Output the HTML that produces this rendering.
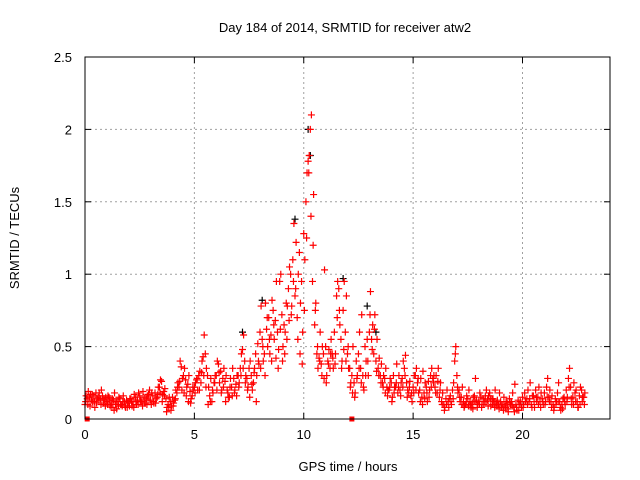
<!DOCTYPE html>
<html><head><meta charset="utf-8"><style>
html,body{margin:0;padding:0;background:#fff;}
svg{display:block;font-family:"Liberation Sans",sans-serif;}
</style></head><body>
<svg id="chart" width="640" height="480">
<text x="345" y="32" font-size="13" text-anchor="middle">Day 184 of 2014, SRMTID for receiver atw2</text>
<text x="348" y="471" font-size="13" text-anchor="middle">GPS time / hours</text>
<text transform="translate(19,238) rotate(-90)" font-size="13" text-anchor="middle">SRMTID / TECUs</text>
<g id="grid"></g><g id="axes"></g><g id="marks"></g>
<rect x="85" y="57" width="525" height="362" fill="none" stroke="#000" stroke-width="1"/>
</svg>
<script>
const xTicks=[0,5,10,15,20];
const yTicks=[0,0.5,1,1.5,2,2.5];
const yTickLabels=["0","0.5","1","1.5","2","2.5"];
const tStart=0, tStep=0.1;
const seriesA=[.10,.14,.15,.13,.16,.18,.15,.14,.16,.13,.12,.15,.11,.13,.10,.12,.14,.09,.12,.13,.11,.14,.12,.15,.13,.16,.12,.15,.14,.17,.13,.16,.18,.15,.22,.26,.19,.14,.10,.12,.15,.13,.18,.22,.36,.30,.27,.24,.19,.16,.22,.27,.30,.25,.43,.45,.30,.16,.12,.25,.30,.38,.33,.28,.26,.20,.15,.22,.28,.24,.30,.35,.48,.40,.28,.35,.30,.25,.45,.52,.60,.55,.45,.62,.70,.58,.75,.68,.60,.95,.72,.65,.80,.90,1.0,1.10,.85,.70,1.15,.95,1.28,1.50,1.78,2.0,.95,.65,.45,.42,.38,.45,.50,.40,.35,.45,.60,.85,.90,.55,.75,.60,.45,.35,.30,.25,.40,.45,.35,.30,.50,.55,.60,.55,.45,.40,.35,.30,.25,.28,.22,.20,.25,.30,.22,.18,.20,.28,.35,.25,.18,.16,.22,.30,.25,.20,.15,.18,.22,.26,.30,.28,.22,.18,.15,.12,.10,.14,.12,.16,.20,.40,.30,.20,.15,.12,.10,.14,.12,.11,.16,.13,.12,.15,.14,.16,.13,.18,.14,.12,.11,.10,.12,.10,.09,.11,.14,.12,.08,.10,.13,.12,.15,.18,.14,.12,.10,.16,.20,.15,.12,.14,.18,.22,.15,.12,.10,.14,.18,.12,.10,.15,.20,.28,.22,.15,.18,.12,.16,.20,.15];
const seriesB=[.16,.19,.17,.12,.08,.14,.18,.20,.11,.15,.16,.09,.14,.18,.07,.15,.10,.16,.08,.11,.14,.09,.17,.10,.18,.12,.19,.11,.16,.20,.18,.11,.14,.22,.27,.17,.21,.08,.15,.09,.11,.20,.25,.40,.28,.35,.22,.30,.14,.20,.25,.20,.33,.40,.58,.35,.22,.28,.18,.30,.40,.25,.20,.35,.30,.15,.28,.35,.20,.30,.25,.45,.58,.30,.22,.40,.20,.35,.30,.38,.78,.40,.80,.50,.45,.82,.55,.95,.48,1.0,.50,.60,.78,1.05,.78,1.35,1.22,1.0,.80,.60,1.10,1.70,1.82,2.1,1.55,.80,.35,.60,.50,1.03,.30,.48,.55,.35,.45,.95,.65,.40,.95,.85,.35,.25,.50,.18,.30,.60,.72,.20,.40,.30,.88,.65,.72,.55,.42,.38,.30,.35,.20,.28,.15,.22,.38,.30,.25,.40,.44,.20,.26,.12,.30,.35,.18,.28,.33,.25,.12,.20,.35,.30,.30,.35,.25,.18,.08,.20,.14,.10,.25,.50,.18,.12,.22,.09,.16,.20,.08,.15,.28,.10,.18,.10,.12,.20,.16,.09,.14,.20,.13,.18,.08,.15,.12,.05,.10,.18,.24,.06,.10,.08,.10,.12,.20,.25,.16,.08,.12,.22,.18,.10,.12,.28,.20,.16,.08,.12,.25,.06,.14,.10,.15,.35,.10,.25,.20,.08,.22,.15,.18];
const seriesC=[.12,.10,.09,.17,.12,.11,.13,.10,.14,.09,.10,.13,.08,.06,.12,.09,.10,.12,.09,.08,.09,.12,.08,.12,.10,.13,.09,.11,.10,.13,.10,.12,.11,.17,.18,.12,.16,.05,.08,.06,.09,.14,.22,.26,.20,.18,.16,.12,.11,.22,.18,.28,.20,.32,.30,.22,.10,.12,.20,.25,.20,.32,.18,.22,.12,.18,.22,.16,.18,.16,.22,.30,.35,.25,.20,.15,.24,.32,.12,.40,.35,.50,.30,.70,.55,.40,.65,.42,.35,.62,.40,.45,.55,.68,.72,.95,.90,.55,.45,.38,.75,1.25,1.70,1.40,1.20,.75,.50,.40,.30,.28,.25,.38,.45,.42,.38,.70,.75,.35,.48,.40,.50,.22,.18,.15,.28,.35,.25,.22,.30,.40,.72,.48,.62,.33,.30,.25,.22,.18,.16,.22,.12,.18,.25,.22,.16,.22,.30,.15,.22,.18,.18,.20,.28,.12,.10,.14,.18,.15,.22,.25,.18,.26,.20,.10,.06,.10,.08,.12,.14,.45,.22,.15,.10,.08,.12,.09,.10,.07,.12,.08,.10,.08,.10,.12,.09,.14,.10,.08,.09,.07,.10,.06,.08,.07,.12,.09,.05,.08,.06,.10,.08,.12,.10,.14,.08,.12,.15,.10,.08,.12,.10,.15,.12,.08,.06,.10,.12,.08,.07,.12,.12,.22,.14,.10,.12,.08,.10,.12,.10];
const blackTimes=[7.2,9.6,10.2,10.3,11.8,12.9,8.1,13.3];
const blackValues=[0.6,1.38,2.0,1.82,0.97,0.78,0.82,0.6];
const zeroTimes=[0.1,12.2];
const zeroValues=[0,0];

const L=85,R=610,T=57,B=419,XMAX=24,YMAX=2.5;
const xs=v=>L+(R-L)*v/XMAX;
const ys=v=>B-(B-T)*v/YMAX;
const NS="http://www.w3.org/2000/svg";
const grid=document.getElementById('grid'),axes=document.getElementById('axes'),marks=document.getElementById('marks');
function mk(tag,attrs,parent){const e=document.createElementNS(NS,tag);for(const k in attrs)e.setAttribute(k,attrs[k]);parent.appendChild(e);return e;}
xTicks.forEach(t=>{
  const x=xs(t);
  if(t>0){const g=mk('line',{x1:x,x2:x,y1:T,y2:B,stroke:'#a0a0a0','stroke-dasharray':'2,3'},grid);
  
  }
  mk('line',{x1:x,x2:x,y1:B,y2:B-6,stroke:'#000'},axes);
  mk('line',{x1:x,x2:x,y1:T,y2:T+6,stroke:'#000'},axes);
  const tx=mk('text',{x:x,y:B+20,'font-size':13,'text-anchor':'middle'},axes);tx.textContent=t;
  
  
});
yTicks.forEach((v,i)=>{
  const y=ys(v);
  if(v>0&&v<YMAX){const g=mk('line',{x1:L,x2:R,y1:y,y2:y,stroke:'#a0a0a0','stroke-dasharray':'2,3'},grid);
  
  }
  mk('line',{x1:L,x2:L+6,y1:y,y2:y,stroke:'#000'},axes);
  mk('line',{x1:R,x2:R-6,y1:y,y2:y,stroke:'#000'},axes);
  const tx=mk('text',{x:L-13,y:y+5,'font-size':13,'text-anchor':'end'},axes);tx.textContent=yTickLabels[i];
  
  
});
function cross(t,v,color,name){
  const x=xs(t),y=ys(v);
  const p=mk('path',{d:`M${x-3.5},${y}H${x+3.5}M${x},${y-3.5}V${y+3.5}`,stroke:color,'stroke-width':1.2,fill:'none'},marks);
  
  
}
blackTimes.forEach((t,i)=>cross(t,blackValues[i],'#000','black-point'));
[[seriesA,0],[seriesB,0.05],[seriesC,0.03]].forEach(([s,off])=>{
  s.forEach((v,i)=>cross(tStart+i*tStep+off,v,'#ff0000','red-point'));
});
zeroTimes.forEach((t,i)=>{
  const r=mk('rect',{x:xs(t)-2.5,y:ys(zeroValues[i])-2.5,width:5,height:5,fill:'#ff0000'},marks);
  
  
});
</script>
</body></html>
